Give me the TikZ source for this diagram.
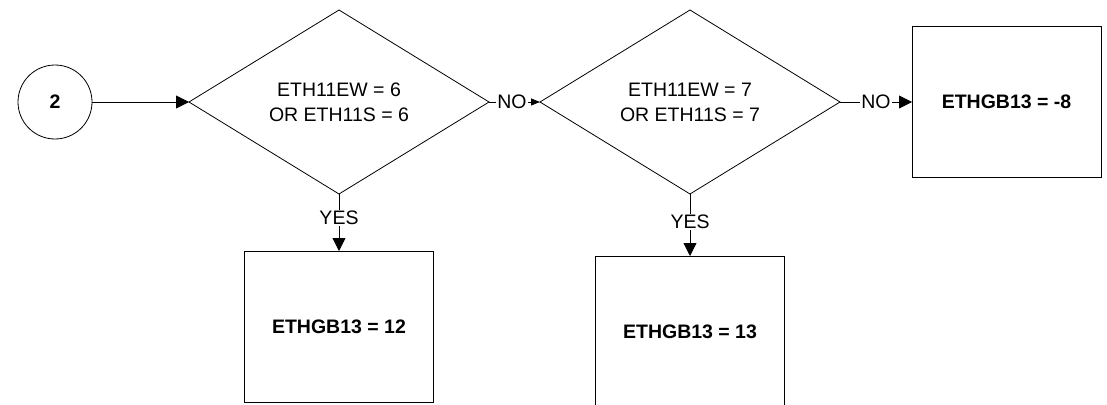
\documentclass[tikz,border=0pt]{standalone}
\usepackage{fontspec}
\setmainfont{Liberation Sans}
\usetikzlibrary{arrows.meta,positioning,shapes.geometric}

\begin{document}
\begin{tikzpicture}[
			x=1pt,y=1pt,
			every node/.style={font=\fontsize{19.5}{25}\selectfont,align=center,outer sep=0pt},
			conn/.style={draw,circle,minimum size=74pt,inner sep=0pt,line width=0.8pt,font=\fontsize{19.5}{25}\selectfont\bfseries},
			test/.style={draw,diamond,minimum width=300pt,minimum height=184pt,inner sep=0pt,line width=0.8pt},
			result/.style={draw,rectangle,minimum width=189pt,minimum height=151pt,line width=0.8pt,font=\fontsize{19.5}{25}\selectfont\bfseries},
			arr/.style={-{Triangle[length=13pt,width=13pt]},line width=0.8pt},
			arrs/.style={-{Triangle[length=9pt,width=7pt]},line width=0.8pt},
			lbl/.style={fill=white,inner sep=1pt}
			]
			\useasboundingbox (0,0) rectangle (1107,-404);
			\node[conn] (start) at (55,-102) {2};
			\node[test,right=97pt of start] (six) {ETH11EW = 6\\OR ETH11S = 6};
			\node[test,right=51pt of six] (seven) {ETH11EW = 7\\OR ETH11S = 7};
			\node[result,right=72pt of seven] (minus) {ETHGB13 = -8};
			\node[result,below=57pt of six] (twelve) {ETHGB13 = 12};
			\node[result,below=62pt of seven] (thirteen) {ETHGB13 = 13};
			\draw[arr] (start)--(six);
			\draw[arrs] (six)--node[lbl,pos=0.45]{NO}(seven);
			\draw[arr] (seven)--node[lbl]{NO}(minus);
			\draw[arr] (six)--node[lbl,pos=0.42]{YES}(twelve);
			\draw[arr] (seven)--node[lbl,pos=0.45]{YES}(thirteen);
		\end{tikzpicture}
\end{document}
